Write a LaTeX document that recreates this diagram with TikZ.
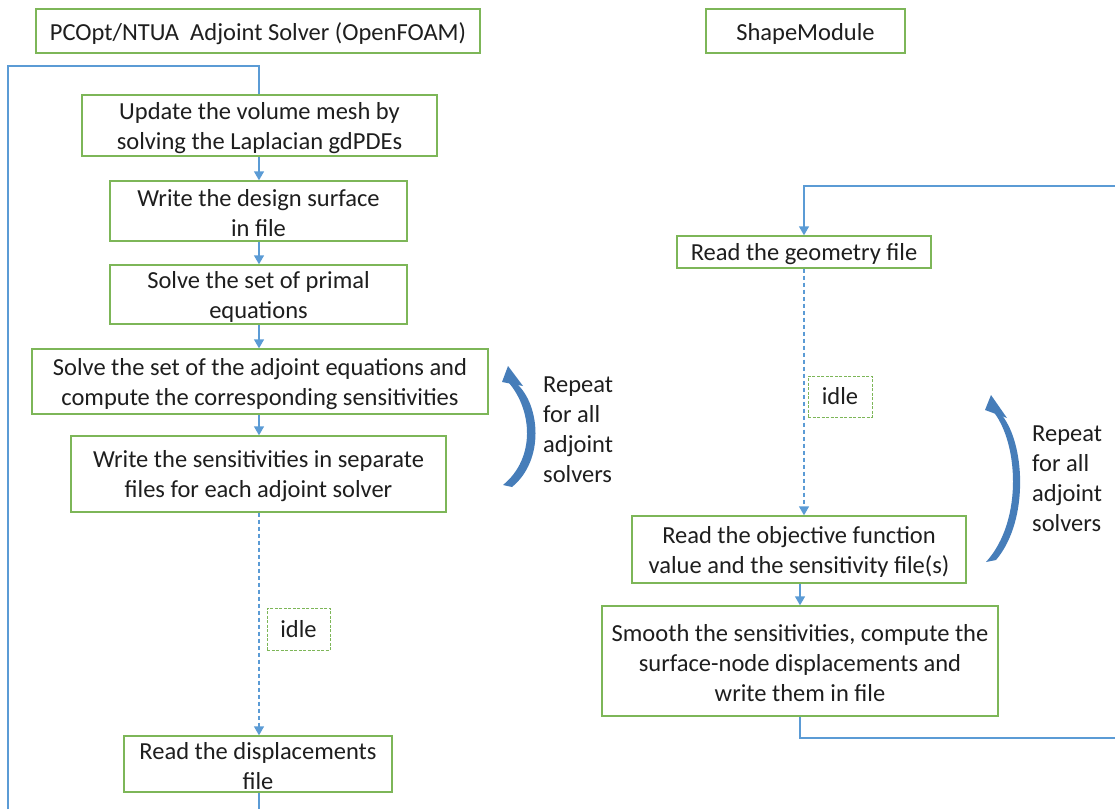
\documentclass[tikz,border=0pt]{standalone}
\usepackage{fontspec}
\setmainfont{Carlito}
\usetikzlibrary{arrows.meta}
\definecolor{boxgreen}{RGB}{125,182,88}
\definecolor{lineblue}{RGB}{91,155,213}
\definecolor{curvblue}{RGB}{70,125,185}
\definecolor{txt}{RGB}{30,30,30}
\newcommand{\fs}{\fontsize{24.5}{30}\selectfont}
\tikzset{
  lbl/.style={yshift=-2.5pt, align=center, inner sep=0pt, text=txt, font=\fs},
  box/.style={draw=boxgreen, line width=1.4pt, fill=white, inner sep=0pt, label={[lbl]center:#1}},
  idlebox/.style={draw=boxgreen, dash pattern=on 3pt off 1.5pt, line width=1pt, fill=white, inner sep=0pt, text=txt, font=\fs},
  flow/.style={draw=lineblue, line width=1.4pt},
  arr/.style={flow, -{Triangle[width=10pt,length=9pt]}},
  darr/.style={arr, dash pattern=on 4pt off 3pt},
  note/.style={align=left, inner sep=0pt, text=txt, font=\fs, anchor=west}
}
\begin{document}
\begin{tikzpicture}[x=1pt,y=-1pt]
\useasboundingbox (0,0) rectangle (1115,809);
% titles
\node[box={PCOpt/NTUA\ \ Adjoint Solver (OpenFOAM)}, minimum width=444pt, minimum height=44pt] (t1) at (258,31) {};
\node[box={ShapeModule}, minimum width=199pt, minimum height=44pt] (t2) at (805.5,31) {};
% left column
\node[box={Update the volume mesh by\\solving the Laplacian gdPDEs}, minimum width=355pt, minimum height=61pt] (b1) at (259.5,125.5) {};
\node[box={Write the design surface\\in file}, minimum width=297pt, minimum height=60pt] (b2) at (258.5,211) {};
\node[box={Solve the set of primal\\equations}, minimum width=297pt, minimum height=59pt] (b3) at (258.5,294.5) {};
\node[box={Solve the set of the adjoint equations and\\compute the corresponding sensitivities}, minimum width=456pt, minimum height=65pt] (b4) at (260,381.5) {};
\node[box={Write the sensitivities in separate\\files for each adjoint solver}, minimum width=375pt, minimum height=76pt] (b5) at (258.5,474) {};
\node[box={Read the displacements\\file}, minimum width=268pt, minimum height=56pt] (b6) at (258,764) {};
% right column
\node[box={Read the geometry file}, minimum width=254pt, minimum height=32pt] (r1) at (804,252) {};
\node[box={Read the objective function\\value and the sensitivity file(s)}, minimum width=334pt, minimum height=67pt] (r2) at (799,549.5) {};
\node[box={Smooth the sensitivities, compute the\\surface-node displacements and\\write them in file}, minimum width=396pt, minimum height=110pt] (r3) at (800,661) {};
% left connectors
\coordinate (lt) at (259,66);
\coordinate (ltl) at (8,66);
\coordinate (lbl) at (8,809);
\coordinate (lb) at (259,809);
\draw[flow] (lbl) -- (ltl) -- (lt) -- (b1.north -| lt);
\draw[arr] (b1.south -| lt) -- (b2.north -| lt);
\draw[arr] (b2.south -| lt) -- (b3.north -| lt);
\draw[arr] (b3.south -| lt) -- (b4.north -| lt);
\draw[arr] (b4.south -| lt) -- (b5.north -| lt);
\draw[darr] (b5.south -| lt) -- (b6.north -| lt);
\draw[flow] (b6.south -| lt) -- (lb);
\node[idlebox, minimum width=63pt, minimum height=42pt] (i1) at (298.5,629) {idle};
% right connectors
\coordinate (rt) at (1115,186);
\coordinate (rtc) at (804,186);
\coordinate (rb) at (1115,738);
\coordinate (rbc) at (800,738);
\draw[arr] (rt) -- (rtc) -- (r1.north -| rtc);
\draw[darr] (r1.south -| rtc) -- (r2.north -| rtc);
\draw[arr] (r2.south -| rbc) -- (r3.north -| rbc);
\draw[flow] (r3.south -| rbc) -- (rbc) -- (rb);
\node[idlebox, minimum width=64pt, minimum height=41pt] (i2) at (840,396.5) {idle};
% curved arrows
\fill[curvblue] (517,384) .. controls (540,405) and (545,460) .. (512,487) -- (503,485)
  .. controls (536,458) and (532,410) .. (509,383) -- cycle;
\fill[curvblue] (502,382) -- (508,366) -- (523,386) -- cycle;
\fill[curvblue] (1000,413) .. controls (1025,440) and (1030,520) .. (996,560) -- (986,562)
  .. controls (1024,520) and (1018,440) .. (992,410) -- cycle;
\fill[curvblue] (985,410) -- (991,395) -- (1007,418) -- cycle;
\node[note] (n1) at (543,430) {Repeat\\for all\\adjoint\\solvers};
\node[note] (n2) at (1032,478.5) {Repeat\\for all\\adjoint\\solvers};
\end{tikzpicture}
\end{document}
